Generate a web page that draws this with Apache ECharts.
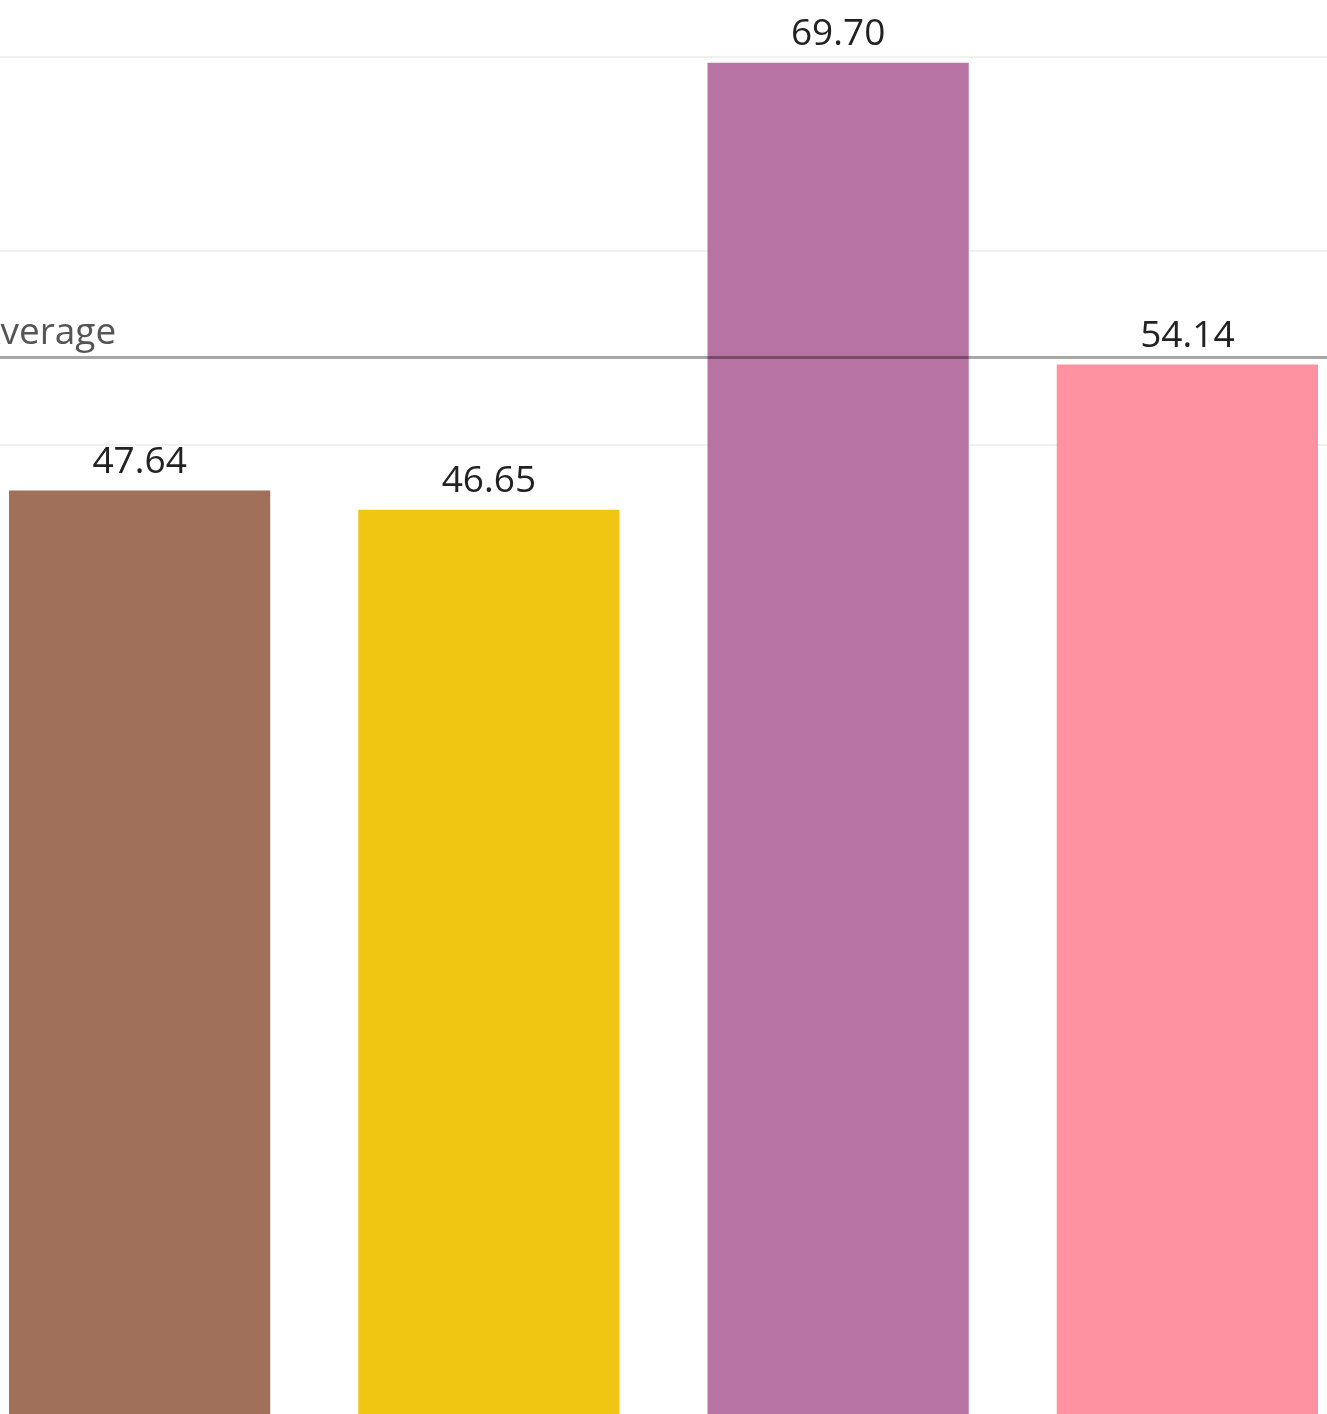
<!DOCTYPE html>
<html>
<head>
<meta charset="utf-8">
<script src="https://cdn.jsdelivr.net/npm/echarts@6/dist/echarts.min.js"></script>
<style>
html,body{margin:0;padding:0;background:#fff;overflow:hidden;width:1327px;height:1414px;}
#chart{position:absolute;left:-35px;top:0;width:1397px;height:1414px;}
</style>
</head>
<body>
<div id="chart"></div>
<script>
const categories = ["Category 1", "Category 2", "Category 3", "Category 4"];
const values = [47.64, 46.65, 69.70, 54.14];
const barColors = ["#a0705a", "#f0c613", "#b773a2", "#ff92a0"];
const yTicks = [0, 10, 20, 30, 40, 50, 60, 70];
const visibleGridValues = [50, 60, 70];

const chart = echarts.init(document.getElementById('chart'));
const FONT = "'Open Sans', 'Liberation Sans', sans-serif";
chart.setOption({
  animation: false,
  backgroundColor: '#ffffff',
  grid: { left: 0, right: 0, top: 57, bottom: -1, containLabel: false },
  xAxis: {
    type: 'category',
    data: categories,
    axisLine: { show: false },
    axisTick: { show: false },
    axisLabel: { show: false }
  },
  yAxis: {
    type: 'value',
    min: yTicks[0],
    max: yTicks[yTicks.length - 1],
    interval: 10,
    axisLine: { show: false },
    axisTick: { show: false },
    axisLabel: { show: false },
    splitLine: { show: false }
  },
  series: [{
    type: 'bar',
    data: values.map((v, i) => ({ value: v, itemStyle: { color: barColors[i] } })),
    barCategoryGap: '25.2%',
    z: 2,
    label: {
      show: true,
      position: 'top',
      distance: 10,
      fontFamily: FONT,
      fontSize: 37,
      color: '#222',
      formatter: p => p.value.toFixed(2)
    },
    markLine: {
      symbol: ['none', 'none'],
      silent: true,
      z: 10,
      lineStyle: { color: 'rgba(0,0,0,0.35)', width: 3, type: 'solid' },
      label: {
        show: true,
        position: 'insideStartTop',
        distance: [12, 5],
        formatter: 'Average',
        fontFamily: FONT,
        fontSize: 37,
        color: '#555'
      },
      data: [{ type: 'average', name: 'Average' }]
    }
  }, {
    type: 'line',
    data: [],
    z: 1,
    markLine: {
      symbol: ['none', 'none'],
      silent: true,
      z: 1,
      label: { show: false },
      lineStyle: { color: '#f0f0f0', width: 2, type: 'solid' },
      data: visibleGridValues.map(v => ({ yAxis: v }))
    }
  }]
});
</script>
</body>
</html>
